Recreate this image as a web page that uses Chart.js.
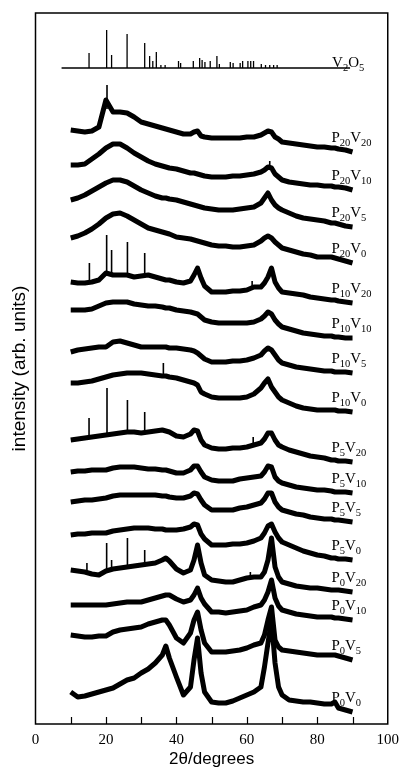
<!DOCTYPE html>
<html>
<head>
<meta charset="utf-8">
<script src="https://cdn.jsdelivr.net/npm/chart.js@4.4.0/dist/chart.umd.min.js"></script>
<style>
  html, body { margin: 0; padding: 0; background: #fff; }
  #wrap { width: 399px; height: 770px; }
</style>
</head>
<body>
<div id="wrap"><canvas id="xrd"></canvas></div>
<script>
// 2theta grid shared by all patterns (degrees)
const twoTheta = [10,12,14,16,18,20,22,24,26,28,30,32,34,36,37,38,40,42,44,45,46,47,48,50,52,54,56,58,60,62,64,65,66,67,68,69,70,72,74,76,78,80,82,84,85,86,88,90];

// stacked intensities (arb. units), top pattern first
const p20v20 = [594,593,592,593,597,624,612,612,611,607,602,600,598,596,595,594,592,590,590,592,593,588,587,586,586,586,586,586,587,587,589,591,593,592,587,585,582,581,580,579,578,577,577,576,576,575,574,572];
const p20v10 = [559,559,560,565,570,576,580,580,576,571,567,563,560,558,557,556,555,553,551,551,550,549,548,547,547,547,548,548,549,550,552,554,557,556,550,547,544,542,541,540,539,539,538,538,537,537,536,534];
const p20v5  = [524,526,529,533,537,541,544,544,542,538,534,531,528,526,526,525,524,522,520,519,518,517,516,515,514,514,514,515,516,517,521,526,531,524,519,516,514,511,508,506,505,504,503,501,501,500,498,497];
const p20v0  = [486,488,491,495,500,506,510,511,508,504,500,496,494,492,491,490,487,486,485,484,483,482,481,479,478,478,477,477,478,479,483,486,488,486,482,479,476,474,472,470,469,467,467,467,466,465,463,461];
const p10v20 = [442,441,441,442,444,451,449,449,449,447,448,449,447,445,444,444,442,441,443,449,456,446,438,432,432,432,433,433,434,437,437,441,447,456,442,436,432,431,430,429,427,426,425,424,424,423,422,421];
const p10v10 = [414,414,414,415,418,421,422,422,422,420,419,418,418,417,416,416,414,413,412,411,410,407,404,402,401,401,401,401,401,402,405,408,412,410,404,400,397,395,393,391,390,389,388,388,387,387,386,386];
const p10v5  = [372,374,375,376,377,377,382,383,381,379,377,377,377,377,377,376,376,375,374,373,371,368,365,362,362,362,363,363,364,366,369,373,376,374,369,364,361,359,357,356,355,354,353,353,352,352,352,351];
const p10v0  = [341,341,342,343,345,347,349,350,351,351,351,350,349,348,348,347,346,344,342,341,339,332,330,327,326,326,326,326,327,330,336,341,345,337,332,327,324,321,318,316,315,314,314,314,314,313,313,312];
const p5v20  = [284,285,286,287,288,289,290,291,292,292,291,292,293,294,293,292,288,287,290,294,293,284,279,276,275,275,276,276,277,279,281,285,291,291,284,279,277,274,272,270,268,267,266,264,264,263,263,262];
const p5v10  = [252,253,253,254,254,254,256,257,257,257,256,255,255,254,254,253,251,251,254,258,258,252,247,244,243,243,243,245,246,247,248,252,258,257,247,243,241,239,237,236,235,234,234,233,232,232,232,231];
const p5v5   = [222,223,224,224,225,226,228,229,229,229,229,229,229,228,228,227,226,226,228,231,230,224,219,214,214,214,214,216,217,219,221,225,231,231,222,217,214,212,210,209,207,206,205,205,204,204,203,202];
const p5v0   = [189,190,190,191,191,191,193,194,195,196,196,196,195,195,194,194,194,195,197,200,199,190,185,179,179,179,180,180,181,183,186,191,198,200,192,186,182,179,176,173,171,169,168,166,166,165,165,164];
const p0v20  = [154,153,152,150,149,153,155,156,157,158,159,160,161,164,166,163,155,151,154,164,179,161,149,144,143,142,142,144,146,147,147,152,164,186,157,147,142,140,138,137,136,136,135,134,134,134,133,132];
const p0v10  = [119,119,119,119,119,119,120,121,122,122,122,124,126,128,129,129,125,122,124,129,136,126,120,112,112,111,112,113,114,117,119,124,132,144,126,118,114,112,110,109,108,107,107,107,106,106,105,104];
const p0v5   = [89,88,87,87,88,88,92,94,95,96,97,100,102,104,104,99,86,81,91,104,112,94,81,72,72,72,73,74,76,79,81,89,104,117,84,77,74,73,72,71,70,69,69,69,69,68,66,64];
const p0v0   = [32,27,28,30,32,34,36,40,44,46,51,55,61,69,78,66,47,29,37,64,86,51,32,22,21,21,23,26,29,32,37,57,81,104,61,37,29,24,23,22,22,21,20,20,22,16,14,12];

// sample names: P and V content
const pContent = [20,20,20,20,10,10,10,10,5,5,5,5,0,0,0,0];
const vContent = [20,10,5,0,20,10,5,0,20,10,5,0,20,10,5,0];

// narrow crystalline lines on some patterns: [2theta, foot, top]
const p20v20Spikes = [[20.3,615,639]];
const p20v10Spikes = [[66.5,556,563]];
const p10v20Spikes = [[15.3,441,461],[20.2,451,489],[21.6,449,474],[26.1,449,482],[31.0,448,471],[61.5,436,443]];
const p10v0Spikes  = [[36.3,348,361]];
const p5v20Spikes  = [[15.2,286,306],[20.3,289,336],[26.1,292,324],[31.0,291,312],[61.8,278,287]];
const p0v20Spikes  = [[14.6,152,161],[20.2,153,181],[21.6,155,164],[26.1,157,186],[31.0,159,174],[61.0,147,152]];

// V2O5 reference stick pattern
const v2o5Base = 656;
const v2o5Range = [7.4, 89.3];
const v2o5Pos    = [15.2,20.2,21.6,26.0,31.0,32.4,33.3,34.3,35.6,36.8,40.6,41.2,44.8,46.6,47.3,48.1,49.6,51.5,52.2,55.3,56.1,58.1,58.8,60.3,61.1,61.9,64.1,65.3,66.5,67.6,68.6];
const v2o5Height = [15,38,13,34,25,12,7,16,3,3,7,5,7,10,8,6,7,12,4,6,5,5,7,7,7,7,4,3,3,3,3];

const patterns = [p20v20,p20v10,p20v5,p20v0,p10v20,p10v10,p10v5,p10v0,p5v20,p5v10,p5v5,p5v0,p0v20,p0v10,p0v5,p0v0];
const spikeSets = [p20v20Spikes,p20v10Spikes,[],[],p10v20Spikes,[],[],p10v0Spikes,p5v20Spikes,[],[],[],p0v20Spikes,[],[],[]];

const serif = '"Liberation Serif", "Times New Roman", serif';
const sans = '"Liberation Sans", Arial, sans-serif';

// build datasets
const datasets = [];
patterns.forEach((vals, i) => {
  datasets.push({
    data: twoTheta.map((t, k) => ({ x: t, y: vals[k] })),
    borderColor: '#000', borderWidth: 5, borderJoinStyle: 'round', pointRadius: 0, tension: 0
  });
});
spikeSets.forEach(set => {
  if (!set.length) return;
  const pts = [];
  set.forEach(s => { pts.push({ x: s[0], y: s[1] }, { x: s[0], y: s[2] }, { x: s[0], y: null }); });
  datasets.push({ data: pts, borderColor: '#000', borderWidth: 1.6, pointRadius: 0, spanGaps: false });
});
const stickPts = [{ x: v2o5Range[0], y: v2o5Base }];
v2o5Pos.forEach((p, k) => {
  stickPts.push({ x: p, y: v2o5Base }, { x: p, y: v2o5Base + v2o5Height[k] }, { x: p, y: v2o5Base });
});
stickPts.push({ x: v2o5Range[1], y: v2o5Base });
datasets.push({ data: stickPts, borderColor: '#000', borderWidth: 1.3, pointRadius: 0, tension: 0 });

// draw text with subscripts
function drawSubText(ctx, x, y, parts) {
  ctx.save();
  ctx.fillStyle = '#000';
  ctx.textBaseline = 'alphabetic';
  ctx.textAlign = 'left';
  parts.forEach(([txt, sub]) => {
    ctx.font = sub ? '10.5px ' + serif : '15px ' + serif;
    ctx.fillText(txt, x, sub ? y + 4 : y);
    x += ctx.measureText(txt).width;
  });
  ctx.restore();
}

// frame, inward ticks and sample labels
const decorPlugin = {
  id: 'decor',
  afterDatasetsDraw(chart) {
    const { ctx, chartArea: a, scales: { x, y } } = chart;
    ctx.save();
    ctx.strokeStyle = '#000';
    ctx.lineWidth = 1.5;
    ctx.strokeRect(a.left, a.top, a.right - a.left, a.bottom - a.top);
    ctx.lineWidth = 1.2;
    for (let t = 10; t < 100; t += 10) {
      const px = Math.round(x.getPixelForValue(t)) + 0.5;
      ctx.beginPath();
      ctx.moveTo(px, a.bottom);
      ctx.lineTo(px, a.bottom - 7);
      ctx.stroke();
    }
    ctx.restore();
    const lx = x.getPixelForValue(84);
    patterns.forEach((vals, i) => {
      const py = y.getPixelForValue(vals[vals.length - 1]) - 10;
      drawSubText(ctx, lx, py, [['P', false], [String(pContent[i]), true], ['V', false], [String(vContent[i]), true]]);
    });
    drawSubText(ctx, x.getPixelForValue(84.2), y.getPixelForValue(v2o5Base) - 1.5, [['V', false], ['2', true], ['O', false], ['5', true]]);
  }
};

new Chart(document.getElementById('xrd'), {
  type: 'line',
  data: { datasets },
  options: {
    responsive: true,
    maintainAspectRatio: false,
    animation: false,
    devicePixelRatio: 1,
    layout: { padding: { left: 0, right: 0, top: 13, bottom: 0 } },
    plugins: { legend: { display: false }, tooltip: { enabled: false } },
    scales: {
      x: {
        type: 'linear', min: 0, max: 100,
        grid: { display: false, drawTicks: true, tickLength: 7 },
        border: { display: false },
        ticks: {
          stepSize: 10, autoSkip: false, maxRotation: 0, padding: 0,
          color: '#000', font: { family: serif, size: 15 },
          callback: v => (v % 20 === 0 ? v : '')
        },
        title: { display: true, text: '2\u03b8/degrees', color: '#000', font: { family: sans, size: 17 }, padding: { top: 0, bottom: 0 } },
        afterFit: s => { s.height = 46; }
      },
      y: {
        type: 'linear', min: 0, max: 711,
        grid: { display: false, drawTicks: false },
        border: { display: false },
        ticks: { display: false },
        title: { display: true, text: 'intensity (arb. units)', color: '#000', font: { family: sans, size: 19 }, padding: { top: 8, bottom: 0 } },
        afterFit: s => { s.width = 35.5; }
      }
    }
  },
  plugins: [decorPlugin]
});
</script>
</body>
</html>
